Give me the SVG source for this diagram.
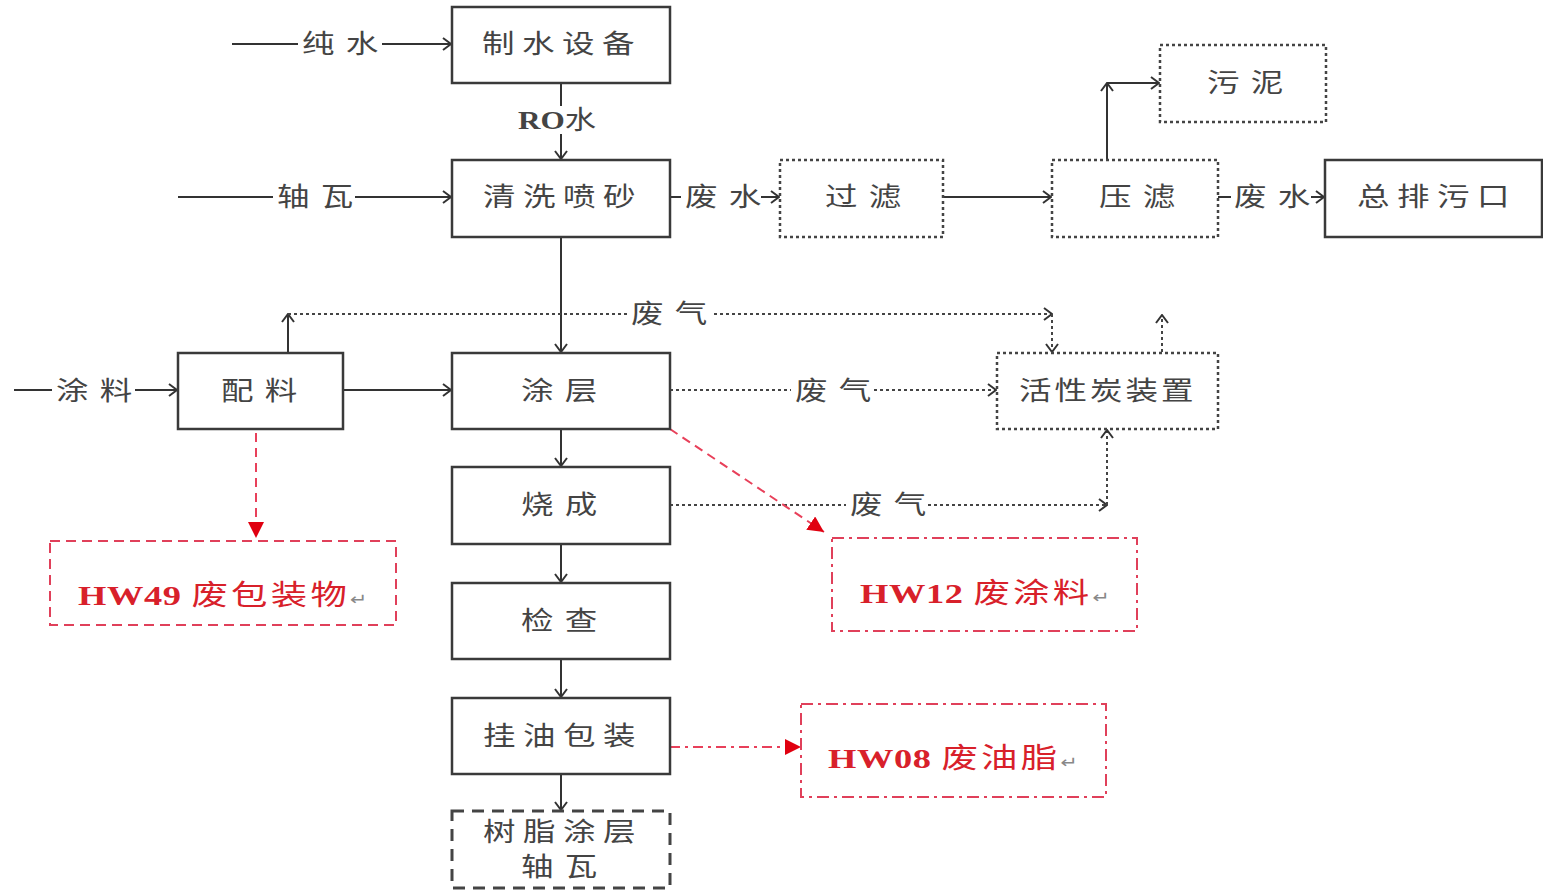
<svg xmlns="http://www.w3.org/2000/svg" width="1543" height="893" viewBox="0 0 1543 893">
<style>
.box{fill:#fff;stroke:#3a3a3a;stroke-width:2.5}
.dot{fill:#fff;stroke:#444;stroke-width:2.5;stroke-dasharray:3 3}
.dash{fill:#fff;stroke:#444;stroke-width:3;stroke-dasharray:12 8}
.rbox{fill:#fff;stroke:#e0405a;stroke-width:2}
.rdash{stroke-dasharray:10 6}
.rdd{stroke-dasharray:12 5 3 5}
.t{font-family:"Liberation Serif","Noto Sans CJK SC",serif;font-size:26px;fill:#444}
.l2{letter-spacing:9px}
.l4{letter-spacing:6px}
.l5{letter-spacing:2.4px}
.rt{font-family:"Liberation Serif","Noto Sans CJK SC",serif;font-size:28px;fill:#d8202a;letter-spacing:2.5px}
.lat{font-weight:bold;letter-spacing:0.5px}
.ret{font-family:"DejaVu Sans",sans-serif;font-size:16px;fill:#888;letter-spacing:0}
.bg{fill:#fff}
.c{fill:none;stroke:#333;stroke-width:2}
.cd{fill:none;stroke:#444;stroke-width:2;stroke-dasharray:3 3}
.cr{fill:none;stroke:#e8405a;stroke-width:2;stroke-dasharray:9 6}
.crd{fill:none;stroke:#e8405a;stroke-width:2;stroke-dasharray:10 5 3 5}
</style>
<defs>
<marker id="arr" viewBox="0 0 10 14" refX="9" refY="7" markerWidth="10" markerHeight="14" markerUnits="userSpaceOnUse" orient="auto">
<path d="M1,1 L9,7 L1,13" fill="none" stroke="#333" stroke-width="2"/>
</marker>
<marker id="tri" viewBox="0 0 16 16" refX="16" refY="8" markerWidth="16" markerHeight="16" markerUnits="userSpaceOnUse" orient="auto">
<path d="M0,0 L16,8 L0,16 z" fill="#e00010"/>
</marker>
</defs>
<rect width="1543" height="893" fill="#fff"/>

<g id="connectors">
<line class="c" x1="232" y1="44" x2="451" y2="44" marker-end="url(#arr)"/>
<line class="c" x1="561" y1="83" x2="561" y2="159" marker-end="url(#arr)"/>
<line class="c" x1="178" y1="197" x2="451" y2="197" marker-end="url(#arr)"/>
<line class="c" x1="670" y1="197" x2="779" y2="197" marker-end="url(#arr)"/>
<line class="c" x1="943" y1="197" x2="1051" y2="197" marker-end="url(#arr)"/>
<line class="c" x1="1107" y1="160" x2="1107" y2="83" marker-end="url(#arr)"/>
<line class="c" x1="1107" y1="83" x2="1159" y2="83" marker-end="url(#arr)"/>
<line class="c" x1="1218" y1="197" x2="1324" y2="197" marker-end="url(#arr)"/>
<line class="c" x1="561" y1="237" x2="561" y2="352" marker-end="url(#arr)"/>
<line class="c" x1="14" y1="390" x2="177" y2="390" marker-end="url(#arr)"/>
<line class="c" x1="343" y1="390" x2="451" y2="390" marker-end="url(#arr)"/>
<line class="c" x1="561" y1="429" x2="561" y2="466" marker-end="url(#arr)"/>
<line class="c" x1="561" y1="544" x2="561" y2="582" marker-end="url(#arr)"/>
<line class="c" x1="561" y1="659" x2="561" y2="697" marker-end="url(#arr)"/>
<line class="c" x1="561" y1="774" x2="561" y2="810" marker-end="url(#arr)"/>
<line class="c" x1="288" y1="352" x2="288" y2="314" marker-end="url(#arr)"/>
<line class="cd" x1="288" y1="314" x2="1052" y2="314" marker-end="url(#arr)"/>
<line class="cd" x1="1052" y1="314" x2="1052" y2="352" marker-end="url(#arr)"/>
<line class="cd" x1="1162" y1="352" x2="1162" y2="315" marker-end="url(#arr)"/>
<line class="cd" x1="670" y1="390" x2="996" y2="390" marker-end="url(#arr)"/>
<line class="cd" x1="670" y1="505" x2="1107" y2="505" marker-end="url(#arr)"/>
<line class="cd" x1="1107" y1="505" x2="1107" y2="430" marker-end="url(#arr)"/>
<line class="cr" x1="256" y1="433" x2="256" y2="538" marker-end="url(#tri)"/>
<line class="cr" x1="670" y1="429" x2="824" y2="532" marker-end="url(#tri)"/>
<line class="crd" x1="670" y1="747" x2="801" y2="747" marker-end="url(#tri)"/>
<g id="labels">
<rect class="bg" x="298" y="30" width="84" height="28"/>
<text class="t l2" transform="translate(302,53) scale(1.25,1)">纯水</text>
<rect class="bg" x="514" y="106" width="90" height="28"/>
<text class="t" transform="translate(518,129) scale(1.2,1)"><tspan font-weight="bold">RO</tspan>水</text>
<rect class="bg" x="273" y="183" width="82" height="28"/>
<text class="t l2" transform="translate(277,206) scale(1.25,1)">轴瓦</text>
<rect class="bg" x="681" y="183" width="80" height="28"/>
<text class="t l2" transform="translate(685,206) scale(1.25,1)">废水</text>
<rect class="bg" x="1231" y="183" width="80" height="28"/>
<text class="t l2" transform="translate(1234,206) scale(1.25,1)">废水</text>
<rect class="bg" x="52" y="376" width="83" height="28"/>
<text class="t l2" transform="translate(56,400) scale(1.25,1)">涂料</text>
<rect class="bg" x="627" y="300" width="84" height="28"/>
<text class="t l2" transform="translate(631,323) scale(1.25,1)">废气</text>
<rect class="bg" x="791" y="376" width="82" height="28"/>
<text class="t l2" transform="translate(795,400) scale(1.25,1)">废气</text>
<rect class="bg" x="846" y="491" width="82" height="28"/>
<text class="t l2" transform="translate(850,514) scale(1.25,1)">废气</text>
</g>
</g>

<g id="n_zhishui"><rect class="box" x="452" y="7" width="218" height="76"/><text class="t l4" transform="translate(482,53) scale(1.25,1)">制水设备</text></g>
<g id="n_qingxi"><rect class="box" x="452" y="160" width="218" height="77"/><text class="t l4" transform="translate(483,206) scale(1.25,1)">清洗喷砂</text></g>
<g id="n_guolv"><rect class="dot" x="780" y="160" width="163" height="77"/><text class="t l2" transform="translate(825,206) scale(1.25,1)">过滤</text></g>
<g id="n_yalv"><rect class="dot" x="1052" y="160" width="166" height="77"/><text class="t l2" transform="translate(1099,206) scale(1.25,1)">压滤</text></g>
<g id="n_wuni"><rect class="dot" x="1160" y="45" width="166" height="77"/><text class="t l2" transform="translate(1207,92) scale(1.25,1)">污泥</text></g>
<g id="n_zongpai"><rect class="box" x="1325" y="160" width="217" height="77"/><text class="t l4" transform="translate(1357,206) scale(1.25,1)">总排污口</text></g>
<g id="n_peiliao"><rect class="box" x="178" y="353" width="165" height="76"/><text class="t l2" transform="translate(221,400) scale(1.25,1)">配料</text></g>
<g id="n_tuceng"><rect class="box" x="452" y="353" width="218" height="76"/><text class="t l2" transform="translate(521,400) scale(1.25,1)">涂层</text></g>
<g id="n_huoxingtan"><rect class="dot" x="997" y="353" width="221" height="76"/><text class="t l5" transform="translate(1019,400) scale(1.25,1)">活性炭装置</text></g>
<g id="n_shaocheng"><rect class="box" x="452" y="467" width="218" height="77"/><text class="t l2" transform="translate(521,514) scale(1.25,1)">烧成</text></g>
<g id="n_jiancha"><rect class="box" x="452" y="583" width="218" height="76"/><text class="t l2" transform="translate(521,630) scale(1.25,1)">检查</text></g>
<g id="n_guayou"><rect class="box" x="452" y="698" width="218" height="76"/><text class="t l4" transform="translate(483,745) scale(1.25,1)">挂油包装</text></g>
<g id="n_shuzhi"><rect class="dash" x="452" y="811" width="218" height="77"/><text class="t l4" transform="translate(483,841) scale(1.25,1)">树脂涂层</text><text class="t l2" transform="translate(521,876) scale(1.25,1)">轴瓦</text></g>
<g id="n_hw49"><rect class="rbox rdash" x="50" y="541" width="346" height="84"/><text class="rt" transform="translate(78,605) scale(1.3,1)"><tspan class="lat">HW49 </tspan>废包装物<tspan class="ret">↵</tspan></text></g>
<g id="n_hw12"><rect class="rbox rdd" x="832" y="538" width="305" height="93"/><text class="rt" transform="translate(860,603) scale(1.3,1)"><tspan class="lat">HW12 </tspan>废涂料<tspan class="ret">↵</tspan></text></g>
<g id="n_hw08"><rect class="rbox rdd" x="801" y="704" width="305" height="93"/><text class="rt" transform="translate(828,768) scale(1.3,1)"><tspan class="lat">HW08 </tspan>废油脂<tspan class="ret">↵</tspan></text></g>
</svg>
